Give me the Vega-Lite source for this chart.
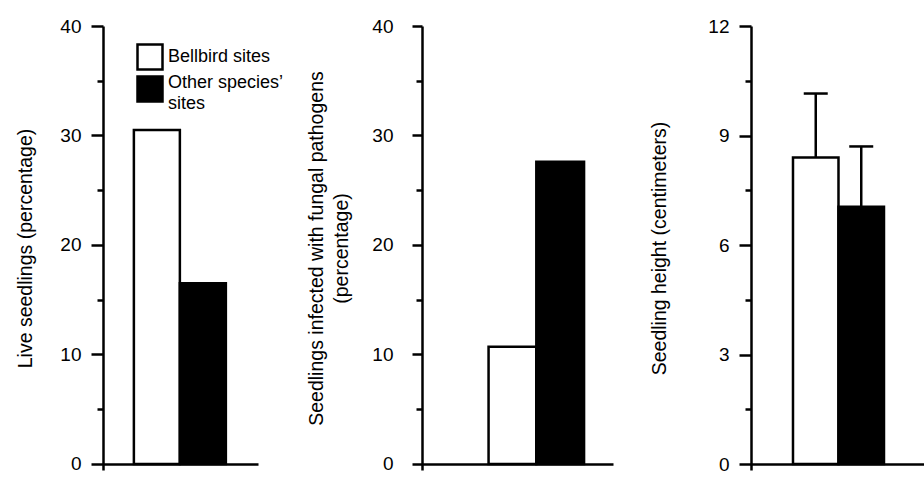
{
  "$schema": "https://vega.github.io/schema/vega-lite/v6.json",
  "padding": {"left": 15, "top": 17, "right": 0, "bottom": 0},
  "background": "white",
  "config": {
    "view": {"stroke": null},
    "font": "Liberation Sans",
    "axis": {
      "labelFont": "Liberation Sans", "labelFontSize": 19, "labelColor": "black",
      "titleFont": "Liberation Sans", "titleFontSize": 19.5, "titleFontWeight": "normal", "titleColor": "black",
      "domainColor": "black", "domainWidth": 2.5, "tickColor": "black", "tickWidth": 2.5, "grid": false
    },
    "legend": {
      "labelFont": "Liberation Sans", "labelFontSize": 18, "labelColor": "black",
      "symbolType": "square", "symbolSize": 625, "symbolStrokeColor": "black", "symbolStrokeWidth": 2.5,
      "labelOffset": 4, "rowPadding": -4, "padding": 0
    }
  },
  "datasets": {
    "live": [
      {"site": "Bellbird sites", "value": 30.5},
      {"site": "Other species’ sites", "value": 16.5}
    ],
    "fungal": [
      {"site": "Bellbird sites", "value": 10.7},
      {"site": "Other species’ sites", "value": 27.6}
    ],
    "height": [
      {"site": "Bellbird sites", "value": 8.4, "upper": 10.15},
      {"site": "Other species’ sites", "value": 7.05, "upper": 8.7}
    ]
  },
  "spacing": 36,
  "hconcat": [
    {
      "spacing": 164,
      "bounds": "flush",
      "hconcat": [
        {
          "width": 155, "height": 444,
          "data": {"name": "live"},
          "mark": {"type": "bar", "stroke": "black", "strokeWidth": 2.5},
          "encoding": {
            "x": {"field": "site", "type": "nominal", "sort": null,
              "scale": {"domain": ["Bellbird sites", "Other species’ sites"], "paddingInner": 0, "paddingOuter": 0.685, "align": 0.49},
              "axis": {"title": null, "labels": false, "ticks": false, "offset": -6}},
            "y": {"field": "value", "type": "quantitative",
              "scale": {"domain": [-0.548, 40], "nice": false, "zero": false},
              "axis": {"title": "Live seedlings (percentage)", "values": [0, 5, 10, 15, 20, 25, 30, 35, 40],
                "labelExpr": "datum.value % 10 === 0 ? datum.label : ''",
                "tickSize": {"condition": {"test": "datum.value % 10 === 0", "value": 12}, "value": 6},
                "labelPadding": 10, "titlePadding": 24}},
            "y2": {"datum": 0},
            "fill": {"field": "site", "type": "nominal",
              "scale": {"domain": ["Bellbird sites", "Other species’ sites"], "range": ["white", "black"]},
              "legend": {"title": null, "orient": "none", "legendX": 33, "legendY": 17,
                "labelExpr": "datum.label === 'Other species’ sites' ? ['Other species’', 'sites'] : datum.label",
                "encoding": {"labels": {"lineHeight": {"value": 20.5}, "dy": {"condition": {"test": "datum.value === 'Other species’ sites'", "value": -6}, "value": 0}}}}}
          }
        },
        {
          "width": 191, "height": 444,
          "data": {"name": "fungal"},
          "mark": {"type": "bar", "stroke": "black", "strokeWidth": 2.5},
          "encoding": {
            "x": {"field": "site", "type": "nominal", "sort": null,
              "scale": {"domain": ["Bellbird sites", "Other species’ sites"], "paddingInner": 0, "paddingOuter": 1.076, "align": 0.697},
              "axis": {"title": null, "labels": false, "ticks": false, "offset": -6}},
            "y": {"field": "value", "type": "quantitative",
              "scale": {"domain": [-0.548, 40], "nice": false, "zero": false},
              "axis": {"title": ["Seedlings infected with fungal pathogens", "(percentage)"], "values": [0, 5, 10, 15, 20, 25, 30, 35, 40],
                "labelExpr": "datum.value % 10 === 0 ? datum.label : ''",
                "tickSize": {"condition": {"test": "datum.value % 10 === 0", "value": 10}, "value": 6},
                "labelPadding": 19, "titlePadding": 20, "titleLineHeight": 25}},
            "y2": {"datum": 0},
            "fill": {"field": "site", "type": "nominal",
              "scale": {"domain": ["Bellbird sites", "Other species’ sites"], "range": ["white", "black"]},
              "legend": {"title": null, "orient": "none", "legendX": 33, "legendY": 17,
                "labelExpr": "datum.label === 'Other species’ sites' ? ['Other species’', 'sites'] : datum.label",
                "encoding": {"labels": {"lineHeight": {"value": 20.5}, "dy": {"condition": {"test": "datum.value === 'Other species’ sites'", "value": -6}, "value": 0}}}}}
          }
        }
      ]
    },
    {
      "width": 176, "height": 444,
      "data": {"name": "height"},
      "encoding": {
        "x": {"field": "site", "type": "nominal", "sort": null,
          "scale": {"domain": ["Bellbird sites", "Other species’ sites"], "paddingInner": 0, "paddingOuter": 0.934, "align": 0.494},
          "axis": {"title": null, "labels": false, "ticks": false, "offset": -6}}
      },
      "layer": [
        {
          "mark": {"type": "bar", "stroke": "black", "strokeWidth": 2.5},
          "encoding": {
            "y": {"field": "value", "type": "quantitative",
              "scale": {"domain": [-0.164, 12], "nice": false, "zero": false},
              "axis": {"title": "Seedling height (centimeters)", "values": [0, 1.5, 3, 4.5, 6, 7.5, 9, 10.5, 12],
                "labelExpr": "datum.value % 3 === 0 ? datum.label : ''",
                "tickSize": {"condition": {"test": "datum.value % 3 === 0", "value": 12}, "value": 6},
                "labelPadding": 10, "titlePadding": 38}},
            "y2": {"datum": 0},
            "fill": {"field": "site", "type": "nominal",
              "scale": {"domain": ["Bellbird sites", "Other species’ sites"], "range": ["white", "black"]},
              "legend": {"title": null, "orient": "none", "legendX": 33, "legendY": 17,
                "labelExpr": "datum.label === 'Other species’ sites' ? ['Other species’', 'sites'] : datum.label",
                "encoding": {"labels": {"lineHeight": {"value": 20.5}, "dy": {"condition": {"test": "datum.value === 'Other species’ sites'", "value": -6}, "value": 0}}}}}
          }
        },
        {
          "mark": {"type": "rule", "color": "black", "strokeWidth": 2.5},
          "encoding": {
            "y": {"field": "value", "type": "quantitative"},
            "y2": {"field": "upper"}
          }
        },
        {
          "mark": {"type": "tick", "color": "black", "opacity": 1, "size": 24, "thickness": 2.5, "orient": "horizontal"},
          "encoding": {
            "y": {"field": "upper", "type": "quantitative"}
          }
        }
      ]
    }
  ]
}
